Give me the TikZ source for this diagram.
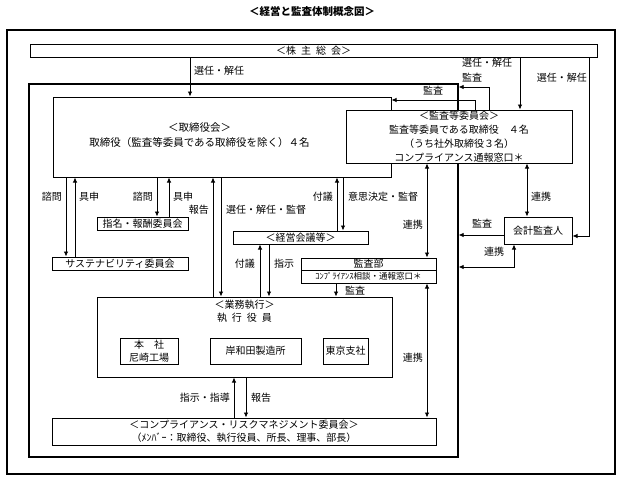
\documentclass[tikz,border=0pt]{standalone}
\usepackage{fontspec}
\setmainfont{Noto Sans CJK JP}
\usetikzlibrary{arrows.meta}
\tikzset{%
    box/.style={draw,fill=white,line width=1pt,inner sep=0pt,align=center,font=\fontsize{10}{13}\selectfont},
    lbl/.style={inner sep=1pt,align=left,font=\fontsize{10}{12}\selectfont}
}

\begin{document}
\begin{tikzpicture}[
                x=1pt,y=-1pt,
                arr/.style={line width=0.8pt,-{Latex[length=5pt,width=4.5pt]}},
                darr/.style={line width=0.8pt,{Latex[length=5pt,width=4.5pt]}-{Latex[length=5pt,width=4.5pt]}}
            ]
            \useasboundingbox (0,0) rectangle (624,479);
            \node[font=\bfseries\fontsize{10.5}{12}\selectfont] (title) at (312,11) {＜経営と監査体制概念図＞};
            \node[draw,line width=2pt,minimum width=608,minimum height=444] (outer) at (311,252) {};
            \node[draw,line width=1.3pt,minimum width=429,minimum height=373] (frame) at (243.5,270.5) {};

            \node[box,minimum width=567,minimum height=13] (share) at (313.5,50.5) {＜株\enspace 主\enspace 総\enspace 会＞};
            \node[box,minimum width=338,minimum height=80] (board) at (222,137) {};
            \node[align=center,inner sep=0pt,font=\fontsize{10.5}{15}\selectfont] (boardtxt) at (199.5,135) {＜取締役会＞\\取締役（監査等委員である取締役を除く）４名};
            \node[box,minimum width=226,minimum height=53,font=\fontsize{10}{14}\selectfont] (audit) at (459,136.5) {＜監査等委員会＞\\監査等委員である取締役　４名\\（うち社外取締役３名）\\コンプライアンス通報窓口＊};
            \node[box,minimum width=136,minimum height=13] (sus) at (120,263.5) {サステナビリティ委員会};
            \node[box,minimum width=91,minimum height=13] (nom) at (142.5,223.5) {指名・報酬委員会};
            \node[box,minimum width=135,minimum height=13] (mgmt) at (300.5,237.5) {＜経営会議等＞};
            \node[box,minimum width=135,minimum height=12] (iad) at (368.5,264) {監査部};
            \node[box,minimum width=135,minimum height=13,font=\fontsize{8.5}{10}\selectfont] (iad2) at (368.5,276.5) {ｺﾝﾌﾟﾗｲｱﾝｽ相談・通報窓口＊};
            \node[box,minimum width=68,minimum height=27] (acct) at (538,230.5) {会計監査人};
            \node[box,minimum width=295,minimum height=80] (exec) at (244.5,337) {};
            \node[align=center,inner sep=0pt,font=\fontsize{10}{13}\selectfont] (exectxt) at (244.5,311.5) {＜業務執行＞\\執\enspace 行\enspace 役\enspace 員};
            \node[box,minimum width=58,minimum height=26] (hq) at (149,351) {本　社\\尼崎工場};
            \node[box,minimum width=91,minimum height=26] (kishi) at (255.5,351) {岸和田製造所};
            \node[box,minimum width=45,minimum height=26] (tokyo) at (345.5,351) {東京支社};
            \node[box,minimum width=384,minimum height=27] (comp) at (244,431.5) {＜コンプライアンス・リスクマネジメント委員会＞\\（ﾒﾝﾊﾞｰ：取締役、執行役員、所長、理事、部長）};

            \draw[arr] (share.south -| 190,0) -- (board.north -| 190,0);
            \node[lbl,anchor=west] (sen1) at (193,71) {選任・解任};
            \draw[arr] (share.south -| 520,0) -- (audit.north -| 520,0);
            \node[lbl,anchor=west] (sen2) at (461,63) {選任・解任};
            \draw[arr] (share.south -| 589,0) |- (acct.east |- 0,236);
            \node[lbl,anchor=east] (sen3) at (588,78) {選任・解任};

            \draw[arr] (audit.north -| 489,0) |- (frame.east |- 0,87);
            \node[lbl,anchor=west] (kan1) at (461,78) {監査};
            \draw[arr] (audit.north -| 475,0) |- (board.east |- 0,100);
            \node[lbl] (kan2) at (433,91) {監査};

            \draw[arr] (board.south -| 66,0) -- (sus.north -| 66,0);
            \draw[arr] (sus.north -| 75,0) -- (board.south -| 75,0);
            \node[lbl,anchor=east] (shi1) at (63,197) {諮問};
            \node[lbl,anchor=west] (gu1) at (78,197) {具申};
            \draw[arr] (board.south -| 157,0) -- (nom.north -| 157,0);
            \draw[arr] (nom.north -| 169,0) -- (board.south -| 169,0);
            \node[lbl,anchor=east] (shi2) at (154,197) {諮問};
            \node[lbl,anchor=west] (gu2) at (172,197) {具申};

            \draw[arr] (exec.north -| 213,0) -- (board.south -| 213,0);
            \node[lbl,anchor=east] (hou1) at (210,210) {報告};
            \draw[arr] (board.south -| 221,0) -- (exec.north -| 221,0);
            \node[lbl,anchor=west] (sen4) at (225,210) {選任・解任・監督};
            \draw[arr] (mgmt.north -| 337,0) -- (board.south -| 337,0);
            \node[lbl,anchor=east] (fu1) at (334,197) {付議};
            \draw[arr] (board.south -| 343,0) -- (mgmt.north -| 343,0);
            \node[lbl,anchor=west] (ishi) at (347,197) {意思決定・監督};

            \draw[darr] (audit.south -| 427,0) -- (iad.north -| 427,0);
            \node[lbl,anchor=east] (ren1) at (424,225) {連携};
            \draw[darr] (audit.south -| 527,0) -- (acct.north -| 527,0);
            \node[lbl,anchor=west] (ren2) at (530,197) {連携};
            \draw[arr] (acct.west |- 0,235) -- (frame.east |- 0,235);
            \node[lbl] (kan3) at (482,224) {監査};
            \draw[darr] (acct.south -| 514,0) |- (frame.east |- 0,267);
            \node[lbl] (ren3) at (494,252) {連携};

            \draw[arr] (exec.north -| 260,0) -- (mgmt.south -| 260,0);
            \node[lbl,anchor=east] (fu2) at (256,264) {付議};
            \draw[arr] (mgmt.south -| 269,0) -- (exec.north -| 269,0);
            \node[lbl,anchor=west] (shiji) at (273,264) {指示};
            \draw[arr] (iad2.south -| 336,0) -- (exec.north -| 336,0);
            \node[lbl,anchor=west] (kan4) at (344,291) {監査};
            \draw[darr] (iad2.south -| 427,0) -- (comp.north -| 427,0);
            \node[lbl,anchor=east] (ren4) at (424,358) {連携};

            \draw[arr] (comp.north -| 234,0) -- (exec.south -| 234,0);
            \node[lbl,anchor=east] (shido) at (231,398) {指示・指導};
            \draw[arr] (exec.south -| 246,0) -- (comp.north -| 246,0);
            \node[lbl,anchor=west] (hou2) at (250,398) {報告};
        \end{tikzpicture}
\end{document}
